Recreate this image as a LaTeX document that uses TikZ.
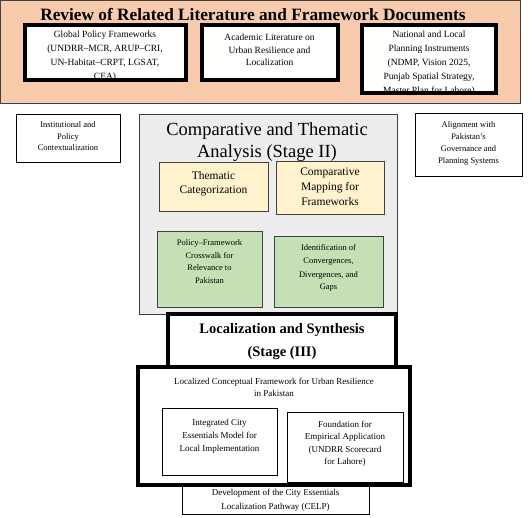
\documentclass[tikz,border=0pt]{standalone}
\usepackage{fontspec}
\setmainfont{Liberation Serif}
\definecolor{peach}{HTML}{F8CBAD}
\definecolor{panelgray}{HTML}{EDEDED}
\definecolor{paleyellow}{HTML}{FFF2CC}
\definecolor{palegreen}{HTML}{C5E0B4}
\definecolor{edgegray}{HTML}{404040}
\tikzset{
  heavybox/.style={draw=black, line width=3.5pt, fill=white},
  lightbox/.style={draw=black, line width=0.8pt, fill=white},
  txt/.style={align=center, inner sep=0pt, anchor=base},
}
\newcommand{\fsz}[2]{\fontsize{#1}{#2}\selectfont}
\begin{document}
\begin{tikzpicture}[x=1pt,y=-1pt]
\path[use as bounding box, fill=white] (0,0) rectangle (532,518);

% top panel
\draw[fill=peach, draw=edgegray, line width=0.8pt] (0.5,0.5) rectangle (520,103);
\node[txt, font=\fsz{17.3}{17}\bfseries] (t1) at (253,20.5) {Review of Related Literature and Framework Documents};

\fill[white] (25,25) rectangle (186,80);
\begin{scope}
\clip (25,25) rectangle (186,80);
\node[txt, font=\fsz{9.5}{14}] (g1) at (105,80) {Global Policy Frameworks\\(UNDRR--MCR, ARUP--CRI,\\UN-Habitat--CRPT, LGSAT,\\CEA)};
\end{scope}
\draw[heavybox, line width=4pt, fill=none] (25,25) rectangle (186,80);

\draw[heavybox, line width=4pt] (202,25) rectangle (338,80);
\node[txt, font=\fsz{9.5}{12.5}] (g2) at (269.5,66) {Academic Literature on\\Urban Resilience and\\Localization};

\fill[white] (362,25) rectangle (496,93);
\begin{scope}
\clip (362,25) rectangle (496,93);
\node[txt, font=\fsz{9.5}{14}] (g3) at (429,94) {National and Local\\Planning Instruments\\(NDMP, Vision 2025,\\Punjab Spatial Strategy,\\Master Plan for Lahore)};
\end{scope}
\draw[heavybox, line width=4pt, fill=none] (362,25) rectangle (496,93);

% side boxes
\draw[lightbox] (16,114) rectangle (120,162);
\node[txt, font=\fsz{8.5}{11.5}] (s1) at (68,151) {Institutional and\\Policy\\Contextualization};
\draw[lightbox] (415,113) rectangle (522,176);
\node[txt, font=\fsz{8.5}{11.8}] (s2) at (468.5,163.4) {Alignment with\\Pakistan's\\Governance and\\Planning Systems};

% stage II panel
\draw[fill=panelgray, draw=edgegray, line width=0.8pt] (139,114) rectangle (397,314);
\node[txt, font=\fsz{18.5}{22}] (t2) at (267,158) {Comparative and Thematic\\Analysis (Stage II)};
\draw[fill=paleyellow, draw=edgegray, line width=0.8pt] (159,162) rectangle (268,211);
\node[txt, font=\fsz{11.5}{14}] (y1) at (213.5,193.5) {Thematic\\Categorization};
\draw[fill=paleyellow, draw=edgegray, line width=0.8pt] (276,161) rectangle (384,214);
\node[txt, font=\fsz{11.5}{15}] (y2) at (330,206) {Comparative\\Mapping for\\Frameworks};
\draw[fill=palegreen, draw=edgegray, line width=0.8pt] (157,231) rectangle (262,307);
\node[txt, font=\fsz{8.5}{12.5}] (n1) at (209.5,283.5) {Policy--Framework\\Crosswalk for\\Relevance to\\Pakistan};
\draw[fill=palegreen, draw=edgegray, line width=0.8pt] (274,236) rectangle (383,307);
\node[txt, font=\fsz{8.5}{13}] (n2) at (328.5,290) {Identification of\\Convergences,\\Divergences, and\\Gaps};

% stage III
\draw[heavybox] (168,314) rectangle (396,367);
\node[txt, font=\fsz{14.5}{23}\bfseries] (t3) at (282,356) {Localization and Synthesis\\(Stage (III)};

\draw[lightbox] (182,485) rectangle (369,514);
\node[txt, font=\fsz{9}{14}] (b1) at (275.5,509) {Development of the City Essentials\\Localization Pathway (CELP)};

\draw[heavybox] (138,367) rectangle (410,485);
\node[txt, font=\fsz{9}{12.5}] (l1) at (274,396.5) {Localized Conceptual Framework for Urban Resilience\\in Pakistan};
\draw[lightbox] (162,408) rectangle (277,475);
\node[txt, font=\fsz{9}{13}] (l2) at (219.5,451) {Integrated City\\Essentials Model for\\Local Implementation};
\draw[lightbox] (287,412) rectangle (403,482);
\node[txt, font=\fsz{9}{12.5}] (l3) at (345,464.5) {Foundation for\\Empirical Application\\(UNDRR Scorecard\\for Lahore)};
\end{tikzpicture}
\end{document}
